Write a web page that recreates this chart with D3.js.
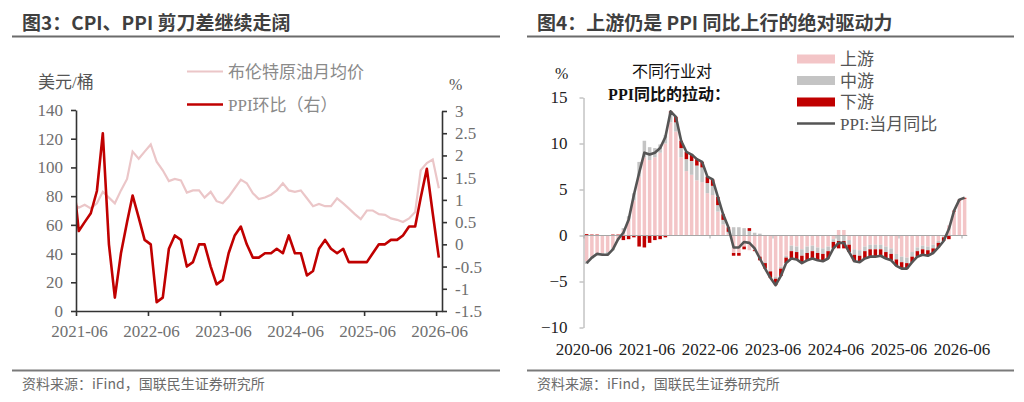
<!DOCTYPE html>
<html>
<head>
<meta charset="utf-8">
<script src="https://cdn.jsdelivr.net/npm/d3@7"></script>
<style>
html, body { margin: 0; padding: 0; background: #fff; }
svg { display: block; }
</style>
</head>
<body>
<div id="chart"></div>
<script>
"use strict";
// left panel: Brent monthly average (USD/bbl) and PPI m/m (%), monthly from 2021-05
var leftStart = "2021-05";
var brent = [75, 72, 74, 71.5, 75, 83, 79, 75, 84, 92, 111, 106, 111, 116, 104, 98, 90.5, 92, 91, 82.5,
    84, 84, 79, 83, 76.5, 75, 79.5, 85.5, 91.5, 89, 82, 78, 79, 81, 84, 89, 84, 83, 84, 78.5,
    73, 74.5, 73, 73, 78.5, 75, 71.5, 67.5, 64, 70, 70, 67.5, 67, 64.5, 63.5, 62, 64.5, 69, 98, 103,
    105.5, 85.5];
var ppiMom = [1.6, 0.3, 0.5, 0.7, 1.2, 2.5, 0.0, -1.2, -0.2, 0.5, 1.1, 0.6, 0.1, 0.0, -1.3, -1.2, -0.1, 0.2, 0.1, -0.5,
    -0.4, 0.0, 0.0, -0.5, -0.9, -0.8, -0.2, 0.2, 0.4, 0.0, -0.3, -0.3, -0.2, -0.2, -0.1, -0.2, 0.2, -0.2, -0.2, -0.7,
    -0.6, -0.1, 0.1, -0.1, -0.2, -0.1, -0.4, -0.4, -0.4, -0.4, -0.2, 0.0, 0.0, 0.1, 0.1, 0.2, 0.4, 0.4, 1.05, 1.7,
    0.7, -0.3];
var leftXTicks = ["2021-06", "2022-06", "2023-06", "2024-06", "2025-06", "2026-06"];
var leftYTicks = [0, 20, 40, 60, 80, 100, 120, 140];
var leftY2Ticks = [-1.5, -1, -0.5, 0, 0.5, 1, 1.5, 2, 2.5, 3];

// right panel: contribution to PPI y/y by segment (%), monthly from 2020-06
var rightStart = "2020-06";
var upstream = [-2.8, -2.3, -1.9, -1.9, -1.8, -1.4, -0.4, 0.6, 1.8, 3.8, 6.4, 8.5, 8.2, 8.5, 9.0, 10.0, 12.3, 11.3, 8.5, 7.0,
    6.6, 6.0, 5.8, 4.6, 4.4, 2.6, 1.2, 0.2, -1.9, -1.9, -1.2, -1.6, -1.6, -2.3, -2.9, -3.8, -4.5, -3.4, -2.2, -1.1,
    -1.2, -1.5, -1.2, -1.1, -1.3, -1.4, -1.2, -0.4, 0.6, 0.6, -0.5, -1.5, -1.6, -1.2, -1.0, -1.0, -1.0, -1.2, -1.4, -2.0,
    -2.3, -2.4, -1.8, -1.3, -1.1, -1.2, -1.0, -0.6, -0.1, 1.1, 2.6, 3.8, 4.0];
var midstream = [-0.3, -0.2, -0.2, -0.2, -0.3, -0.2, -0.1, 0.2, 0.3, 0.8, 1.6, 1.8, 1.4, 1.0, 0.9, 0.9, 1.0, 1.0, 1.0, 1.3,
    1.5, 1.6, 1.6, 1.1, 1.0, 0.7, 0.5, 0.2, 0.9, 0.9, 0.8, 0.5, 0.3, 0.2, -0.1, -0.1, -0.2, -0.2, -0.2, -0.6,
    -0.6, -0.7, -0.7, -0.6, -0.6, -0.6, -0.5, -0.3, -0.6, -0.6, -0.5, -0.6, -0.6, -0.5, -0.5, -0.5, -0.5, -0.6, -0.6, -0.6,
    -0.6, -0.6, -0.5, -0.4, -0.4, -0.4, -0.4, -0.2, -0.1, 0.0, 0.0, 0.0, 0.0];
var downstream = [0.15, 0.1, 0.1, 0.0, 0.0, 0.1, 0.1, -0.5, -0.4, -0.2, -1.2, -1.3, -0.8, -0.5, -0.4, -0.2, 0.2, 0.6, 0.8, 0.8,
    0.7, 0.7, 0.6, 0.7, 0.7, 0.9, 0.6, 0.5, -0.3, -0.3, -0.3, 0.3, -0.1, -0.4, -0.6, -0.7, -0.7, -0.8, -0.6, -0.8,
    -0.8, -0.8, -0.8, -0.8, -0.8, -0.8, -0.8, -0.7, -0.8, -0.8, -0.8, -0.7, -0.7, -0.8, -0.8, -0.8, -0.7, -0.7, -0.7, -0.7,
    -0.7, -0.6, -0.6, -0.6, -0.6, -0.6, -0.5, -0.5, -0.4, -0.4, 0.1, 0.1, 0.1];
var ppiYoy = [-3.0, -2.4, -2.0, -2.1, -2.1, -1.5, -0.4, 0.3, 1.7, 4.4, 6.8, 9.0, 8.8, 9.0, 9.5, 10.7, 13.5, 12.9, 10.3, 9.1,
    8.8, 8.3, 8.0, 6.4, 6.1, 4.2, 2.3, 0.9, -1.3, -1.3, -0.7, -0.8, -1.4, -2.5, -3.6, -4.6, -5.4, -4.4, -3.0, -2.5,
    -2.6, -3.0, -2.7, -2.5, -2.7, -2.8, -2.5, -1.4, -0.8, -0.8, -1.8, -2.8, -2.9, -2.5, -2.3, -2.3, -2.2, -2.5, -2.7, -3.3,
    -3.6, -3.6, -2.9, -2.3, -2.1, -2.2, -1.9, -1.3, -0.6, 0.7, 2.7, 3.9, 4.1];
var rightXTicks = ["2020-06", "2021-06", "2022-06", "2023-06", "2024-06", "2025-06", "2026-06"];
var rightYTicks = [-10, -5, 0, 5, 10, 15];

var SERIF = "'Times New Roman','Liberation Serif','Noto Sans CJK SC',serif";
var CJK = "'Noto Sans CJK SC','Microsoft YaHei',sans-serif";

var parseMonth = d3.timeParse("%Y-%m");
var fmtMonth = d3.timeFormat("%Y-%m");
function monthList(start, n) {
    var s = parseMonth(start);
    return d3.timeMonth.range(s, d3.timeMonth.offset(s, n)).map(fmtMonth);
}
var leftMonths = monthList(leftStart, brent.length);
var rightMonths = monthList(rightStart, ppiYoy.length);

var svg = d3.select("#chart").append("svg")
    .attr("width", 1024)
    .attr("height", 402);

// panel heading + rules
function frame(x0, x1, title) {
    svg.append("text")
        .attr("x", x0 + 10).attr("y", 30)
        .style("font-family", CJK).style("font-weight", "bold")
        .style("font-size", "19px").style("fill", "#3f3f3f")
        .text(title);
    svg.append("line").attr("x1", x0).attr("x2", x1).attr("y1", 36.5).attr("y2", 36.5)
        .attr("stroke", "#6b6b6b").attr("stroke-width", 2);
    svg.append("line").attr("x1", x0).attr("x2", x1).attr("y1", 370.5).attr("y2", 370.5)
        .attr("stroke", "#7a7a7a").attr("stroke-width", 2);
    svg.append("text")
        .attr("x", x0 + 10).attr("y", 389)
        .style("font-family", CJK).style("font-size", "14px").style("fill", "#6b6b6b")
        .text("资料来源：iFind，国联民生证券研究所");
}
frame(12, 500, "图3：CPI、PPI 剪刀差继续走阔");
frame(527, 1014, "图4：上游仍是 PPI 同比上行的绝对驱动力");

function styleAxis(g, color, width, textColor) {
    g.select(".domain").attr("stroke", color).attr("stroke-width", width);
    g.selectAll(".tick line").attr("stroke", color).attr("stroke-width", width);
    g.selectAll("text").style("font-family", SERIF).style("font-size", "17px").style("fill", textColor);
}

// ---------- left chart ----------
var xL = d3.scaleTime()
    .domain([parseMonth("2021-06"), parseMonth("2026-07")])
    .range([76, 442]);
var yL = d3.scaleLinear().domain([0, 140]).range([311, 110]);
var yL2 = d3.scaleLinear().domain([-1.5, 3]).range([311, 111]);
function midMonth(m) {
    return d3.timeDay.offset(parseMonth(m), 14);
}

svg.append("clipPath").attr("id", "clipL")
    .append("rect").attr("x", 76).attr("y", 100).attr("width", 366).attr("height", 212);

var gL = svg.append("g").attr("clip-path", "url(#clipL)");
gL.append("path")
    .datum(brent)
    .attr("fill", "none")
    .attr("stroke", "#ebc6c8")
    .attr("stroke-width", 2.2)
    .attr("d", d3.line()
        .x(function (d, i) { return xL(midMonth(leftMonths[i])); })
        .y(function (d) { return yL(d); }));
gL.append("path")
    .datum(ppiMom)
    .attr("fill", "none")
    .attr("stroke", "#c00000")
    .attr("stroke-width", 2.6)
    .attr("stroke-linejoin", "round")
    .attr("d", d3.line()
        .x(function (d, i) { return xL(midMonth(leftMonths[i])); })
        .y(function (d) { return yL2(d); }));

var axL = svg.append("g").attr("transform", "translate(76,0)")
    .call(d3.axisLeft(yL).tickValues(leftYTicks).tickSize(5).tickSizeOuter(0).tickPadding(8));
styleAxis(axL, "#333", 1.6, "#6f6f6f");

var axR = svg.append("g").attr("transform", "translate(442,0)")
    .call(d3.axisRight(yL2).tickValues(leftY2Ticks).tickSize(5).tickSizeOuter(0).tickPadding(8)
        .tickFormat(function (d) { return String(d); }));
styleAxis(axR, "#333", 1.6, "#6f6f6f");

var axB = svg.append("g").attr("transform", "translate(0,311)")
    .call(d3.axisBottom(xL).tickValues(leftXTicks.map(parseMonth)).tickSize(5).tickSizeOuter(0).tickPadding(9)
        .tickFormat(fmtMonth));
styleAxis(axB, "#333", 1.6, "#6f6f6f");
axB.selectAll(".tick text").attr("dx", 3);

svg.append("text").attr("x", 38).attr("y", 88)
    .style("font-family", SERIF).style("font-size", "17px").style("fill", "#555")
    .text("美元/桶");
svg.append("text").attr("x", 449).attr("y", 90)
    .style("font-family", SERIF).style("font-size", "16px").style("fill", "#555")
    .text("%");

var legL = [
    { label: "布伦特原油月均价", color: "#ebc6c8", width: 2.2 },
    { label: "PPI环比（右）", color: "#c00000", width: 2.6 }
];
legL.forEach(function (l, i) {
    var y = 71.5 + i * 33;
    svg.append("line").attr("x1", 187).attr("x2", 223).attr("y1", y).attr("y2", y)
        .attr("stroke", l.color).attr("stroke-width", l.width);
    svg.append("text").attr("x", 228).attr("y", y + 6)
        .style("font-family", SERIF).style("font-size", "17px").style("fill", "#8a8a8a")
        .text(l.label);
});

// ---------- right chart ----------
var xR = d3.scaleBand()
    .domain(rightMonths)
    .range([584, 584 + rightMonths.length * 5.25])
    .paddingInner(0.33)
    .paddingOuter(0.165);
var yR = d3.scaleLinear().domain([-10, 15]).range([327.5, 97.5]);

var rows = rightMonths.map(function (m, i) {
    return { month: m, up: upstream[i], mid: midstream[i], down: downstream[i] };
});
var segColors = { up: "#f3c5c7", mid: "#c4c4c4", down: "#c00000" };
var stacked = d3.stack().keys(["up", "mid", "down"]).offset(d3.stackOffsetDiverging)(rows);

svg.append("g").selectAll("g")
    .data(stacked).enter()
    .append("g")
    .attr("fill", function (s) { return segColors[s.key]; })
    .selectAll("rect")
    .data(function (s) { return s; }).enter()
    .append("rect")
    .attr("x", function (d) { return xR(d.data.month); })
    .attr("width", xR.bandwidth())
    .attr("y", function (d) { return yR(Math.max(d[0], d[1])); })
    .attr("height", function (d) { return Math.abs(yR(d[0]) - yR(d[1])); });

function tickEdge(m) {
    return xR(m) - xR.step() * xR.paddingInner() / 2;
}
var axRX = svg.append("g").attr("transform", "translate(0," + yR(0) + ")");
axRX.append("line").attr("x1", xR.range()[0]).attr("x2", xR.range()[1])
    .attr("stroke", "#a6a6a6").attr("stroke-width", 1);
axRX.selectAll("line.tk")
    .data(rightXTicks).enter()
    .append("line").attr("class", "tk")
    .attr("x1", tickEdge).attr("x2", tickEdge)
    .attr("y1", 0).attr("y2", 3)
    .attr("stroke", "#a6a6a6");
svg.append("g").selectAll("text")
    .data(rightXTicks).enter()
    .append("text")
    .attr("x", tickEdge)
    .attr("y", 355)
    .attr("text-anchor", "middle")
    .style("font-family", SERIF).style("font-size", "17px").style("fill", "#222")
    .text(function (d) { return d; });

var axRY = svg.append("g").attr("transform", "translate(583.5,0)")
    .call(d3.axisLeft(yR).tickValues(rightYTicks).tickSize(4).tickSizeOuter(0).tickPadding(12));
styleAxis(axRY, "#a6a6a6", 1, "#222");

svg.append("path")
    .datum(ppiYoy)
    .attr("fill", "none")
    .attr("stroke", "#555")
    .attr("stroke-width", 2.6)
    .attr("stroke-linejoin", "round")
    .attr("d", d3.line()
        .x(function (d, i) { return xR(rightMonths[i]) + xR.bandwidth() / 2; })
        .y(function (d) { return yR(d); }));

svg.append("text").attr("x", 555).attr("y", 79)
    .style("font-family", SERIF).style("font-size", "16px").style("fill", "#222")
    .text("%");
svg.append("text").attr("x", 672).attr("y", 77).attr("text-anchor", "middle")
    .style("font-family", SERIF).style("font-size", "16px").style("fill", "#111")
    .text("不同行业对");
svg.append("text").attr("x", 669).attr("y", 100).attr("text-anchor", "middle")
    .style("font-family", SERIF).style("font-size", "16px").style("font-weight", "bold").style("fill", "#111")
    .text("PPI同比的拉动：");

var legR = [
    { label: "上游", color: segColors.up },
    { label: "中游", color: segColors.mid },
    { label: "下游", color: segColors.down }
];
legR.forEach(function (l, i) {
    var y = 59 + i * 21.5;
    svg.append("rect").attr("x", 797).attr("y", y - 4.5).attr("width", 38).attr("height", 9)
        .attr("fill", l.color);
    svg.append("text").attr("x", 840).attr("y", y + 6)
        .style("font-family", SERIF).style("font-size", "17px").style("fill", "#555")
        .text(l.label);
});
svg.append("line").attr("x1", 797).attr("x2", 835).attr("y1", 123.5).attr("y2", 123.5)
    .attr("stroke", "#555").attr("stroke-width", 2.6);
svg.append("text").attr("x", 840).attr("y", 129.5)
    .style("font-family", SERIF).style("font-size", "17px").style("fill", "#555")
    .text("PPI:当月同比");
</script>
</body>
</html>
